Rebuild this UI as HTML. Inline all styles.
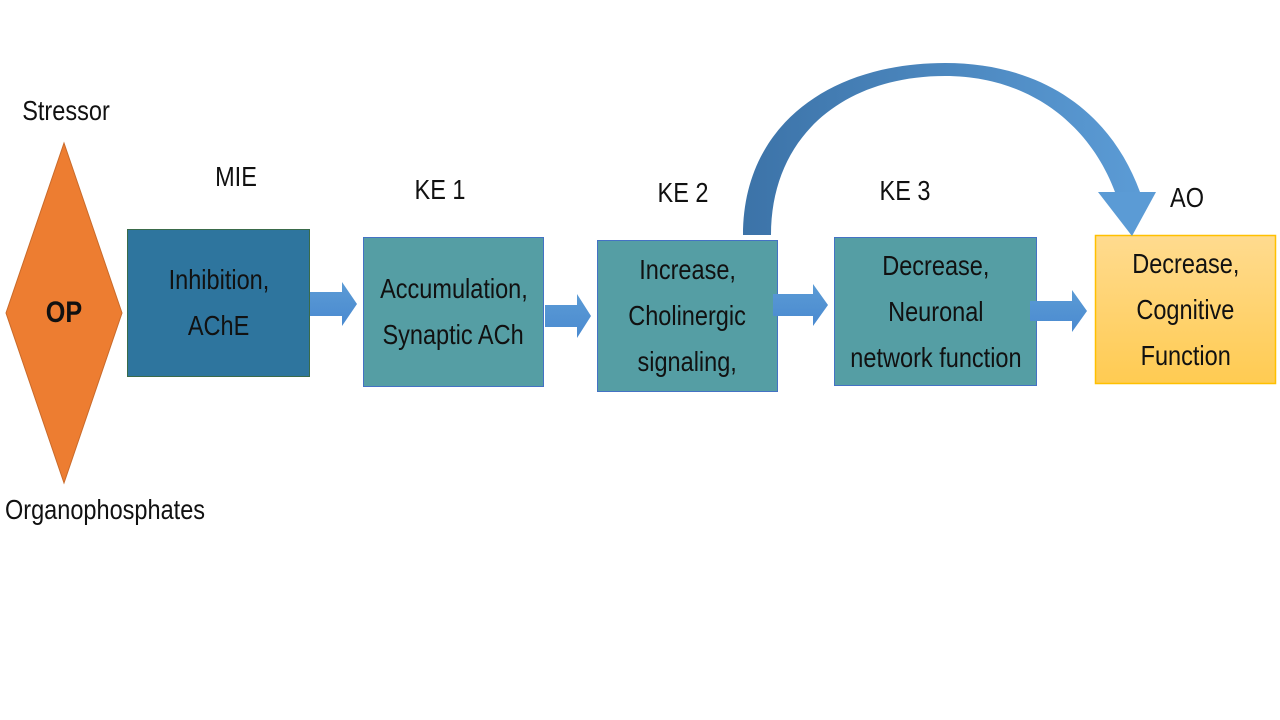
<!DOCTYPE html>
<html><head><meta charset="utf-8"><style>
body{margin:0;width:1280px;height:720px;background:#fff;overflow:hidden;position:relative;font-family:"Liberation Sans",sans-serif;}
.t{position:absolute;color:#111;font-size:28px;white-space:nowrap;transform:translateX(-50%) scaleX(0.84);line-height:1;}
.b{position:absolute;box-sizing:border-box;display:flex;flex-direction:column;justify-content:center;align-items:center;text-align:center;font-size:28px;line-height:46px;color:#111;}
.b span{display:block;white-space:nowrap;transform:scaleX(0.84);}
</style></head><body>
<svg width="1280" height="720" style="position:absolute;left:0;top:0">
<defs>
<linearGradient id="ag" x1="0" x2="1" y1="0" y2="0"><stop offset="0" stop-color="#3c73a8"/><stop offset="1" stop-color="#5b9bd5"/></linearGradient>
<linearGradient id="sg" x1="0" y1="0" x2="0" y2="1"><stop offset="0" stop-color="#5b9bd5"/><stop offset="1" stop-color="#4a8ad0"/></linearGradient>
<linearGradient id="yg" x1="0" y1="0" x2="0" y2="1"><stop offset="0" stop-color="#ffdb8f"/><stop offset="1" stop-color="#ffcb52"/></linearGradient>
</defs>
<polygon points="64,143 122,313 64,483 6,313" fill="#ed7d31" stroke="#c96a2a" stroke-width="1"/>
<rect x="127.5" y="229.5" width="182" height="147" fill="#2e759e" stroke="#3a6b4a"/>
<rect x="363.5" y="237.5" width="180" height="149" fill="#559ea4" stroke="#4472c4"/>
<rect x="597.5" y="240.5" width="180" height="151" fill="#559ea4" stroke="#4472c4"/>
<rect x="834.5" y="237.5" width="202" height="148" fill="#559ea4" stroke="#4472c4"/>
<rect x="1095.5" y="235.5" width="180" height="148" fill="url(#yg)" stroke="#ffc000" stroke-width="1.5"/>
<polygon points="310,292 342,292 342,282 357,304 342,326 342,316 310,316" fill="url(#sg)"/>
<polygon points="545,305 577,305 577,294 591,316 577,338 577,327 545,327" fill="url(#sg)"/>
<polygon points="773,294 813,294 813,284 828,305 813,326 813,316 773,316" fill="url(#sg)"/>
<polygon points="1030,301 1072,301 1072,290 1087,311 1072,332 1072,321 1030,321" fill="url(#sg)"/>
<path d="M743,235 C743,125 830,63 945,63 C1040,63 1110,110 1140,192 L1115,192 C1090,125 1030,76 945,76 C845,76 771,135 771,235 Z" fill="url(#ag)"/>
<polygon points="1098,192 1156,192 1132,236" fill="#5b9bd5"/>
</svg>
<div class="t" style="left:66px;top:97px">Stressor</div>
<div class="t" style="left:64px;top:298px;font-weight:bold;font-size:30px">OP</div>
<div class="t" style="left:105px;top:496px">Organophosphates</div>
<div class="t" style="left:236px;top:163px">MIE</div>
<div class="t" style="left:440px;top:176px">KE 1</div>
<div class="t" style="left:683px;top:179px">KE 2</div>
<div class="t" style="left:905px;top:177px">KE 3</div>
<div class="t" style="left:1187px;top:184px">AO</div>
<div class="b" style="left:127px;top:229px;width:183px;height:148px;"><span>Inhibition,</span><span>AChE</span></div>
<div class="b" style="left:363px;top:237px;width:181px;height:150px;"><span>Accumulation,</span><span>Synaptic ACh</span></div>
<div class="b" style="left:597px;top:240px;width:181px;height:152px;"><span>Increase,</span><span>Cholinergic</span><span>signaling,</span></div>
<div class="b" style="left:834px;top:237px;width:203px;height:149px;"><span>Decrease,</span><span>Neuronal</span><span>network function</span></div>
<div class="b" style="left:1095px;top:235px;width:181px;height:149px;"><span>Decrease,</span><span>Cognitive</span><span>Function</span></div>
</body></html>
